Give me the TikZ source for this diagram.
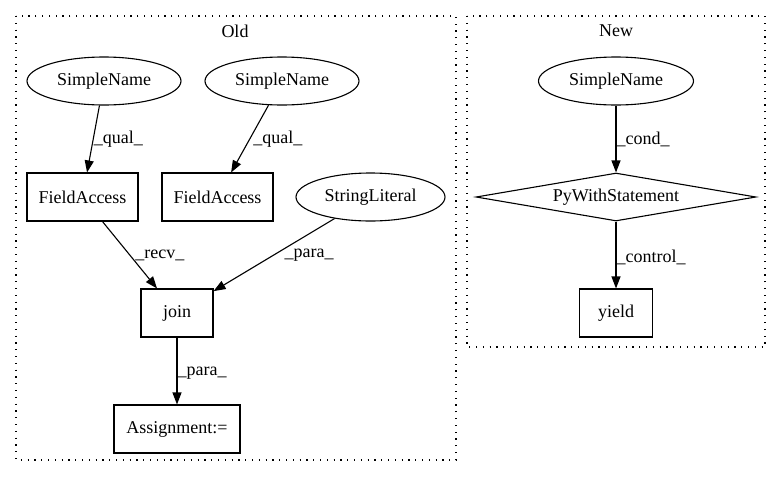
\documentclass[tikz,border=0pt]{standalone}
\usepackage{fontspec}
\setmainfont{Liberation Serif}
\usetikzlibrary{shapes.geometric,arrows.meta}
\begin{document}
\begin{tikzpicture}[x=1pt,y=-1pt,
  every node/.style={font=\fontsize{18}{20}\selectfont, inner sep=0pt},
  ell/.style={draw, ellipse, line width=1.1pt, minimum width=154pt, minimum height=48pt},
  box/.style={draw, rectangle, line width=1.1pt, minimum height=48pt},
  dia/.style={draw, diamond, aspect=5.83, line width=1.1pt, minimum width=280pt, minimum height=48pt},
  edge/.style={draw, line width=1.1pt, -{Triangle[length=12pt,width=9pt]}},
  lbl/.style={anchor=west, inner sep=0pt},
  cluster/.style={draw, line width=1.2pt, dash pattern=on 1.2pt off 5.6pt}]
\useasboundingbox (0,0) rectangle (781,480);
% clusters
\draw[cluster] (16,16) rectangle (456,460);
\draw[cluster] (467,16) rectangle (765,347);
\node (oldlbl) at (235,31) {Old};
\node (newlbl) at (616,31) {New};
% Old nodes
\node[ell] (sn1) at (104,81) {SimpleName};
\node[ell] (sn2) at (282,81) {SimpleName};
\node[box, minimum width=111pt] (fa1) at (82.5,197) {FieldAccess};
\node[box, minimum width=111pt] (fa2) at (217.5,197) {FieldAccess};
\node[ell, minimum width=149pt] (sl) at (370.5,197) {StringLiteral};
\node[box, minimum width=72pt] (join) at (177,313) {join};
\node[box, minimum width=126pt] (asg) at (177,429) {Assignment:=};
% New nodes
\node[ell, minimum width=155pt] (sn3) at (616,81) {SimpleName};
\node[dia] (pws) at (616,197) {PyWithStatement};
\node[box, minimum width=73pt] (yld) at (616,313) {yield};
% edges
\draw[edge] (sn1) -- node[lbl, pos=0.5, xshift=0pt] {\_qual\_} (fa1);
\draw[edge] (sn2) -- node[lbl, pos=0.5, xshift=3pt] {\_qual\_} (fa2);
\draw[edge] (fa1) -- node[lbl, pos=0.5, xshift=5pt] {\_recv\_} (join);
\draw[edge] (sl) -- node[lbl, pos=0.5, xshift=10pt] {\_para\_} (join);
\draw[edge] (join) -- node[lbl, pos=0.53, xshift=0pt] {\_para\_} (asg);
\draw[edge] (sn3) -- node[lbl, pos=0.5, xshift=0pt] {\_cond\_} (pws);
\draw[edge] (pws) -- node[lbl, pos=0.53, xshift=0pt] {\_control\_} (yld);
\end{tikzpicture}
\end{document}
